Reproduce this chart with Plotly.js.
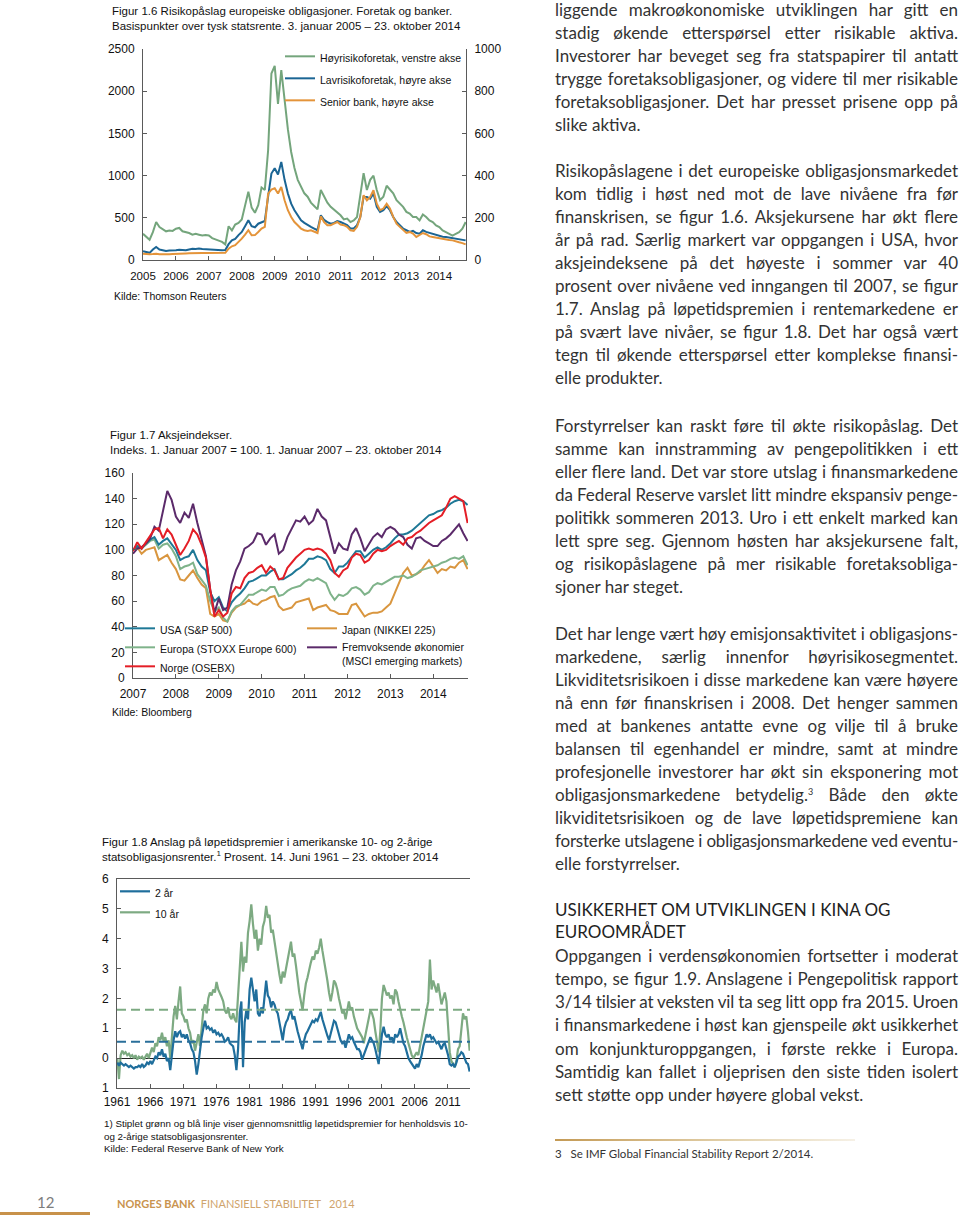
<!DOCTYPE html>
<html><head><meta charset="utf-8">
<script src="https://cdn.plot.ly/plotly-3.0.1.min.js"></script>
<style>
html,body{margin:0;padding:0;background:#fff;}
body{width:960px;height:1220px;position:relative;overflow:hidden;font-family:Lato,"Noto Sans",sans-serif;}
.chart{position:absolute;}
.col{position:absolute;left:555px;width:403px;color:#333;font-size:17px;}
.ln{height:23px;line-height:23px;white-space:nowrap;}
.p5 .ln{height:23.3px;line-height:23.3px;}
.hd{height:22px;line-height:22px;white-space:nowrap;color:#222;}
sup{font-size:9px;line-height:0;vertical-align:6px;}
</style>
</head><body>

<div id="c16" class="chart" style="left:90px;top:0px;width:420px;height:310px"></div>
<div id="c17" class="chart" style="left:90px;top:410px;width:420px;height:310px"></div>
<div id="c18" class="chart" style="left:90px;top:830px;width:420px;height:330px"></div>

<div class="col" style="top:-2px">
<div class="ln j">liggende makroøkonomiske utviklingen har gitt en</div>
<div class="ln j">stadig økende etterspørsel etter risikable aktiva.</div>
<div class="ln j">Investorer har beveget seg fra statspapirer til antatt</div>
<div class="ln j">trygge foretaksobligasjoner, og videre til mer risikable</div>
<div class="ln j">foretaksobligasjoner. Det har presset prisene opp på</div>
<div class="ln">slike aktiva.</div>
</div>

<div class="col" style="top:158.5px">
<div class="ln j">Risikopåslagene i det europeiske obligasjonsmarkedet</div>
<div class="ln j">kom tidlig i høst ned mot de lave nivåene fra før</div>
<div class="ln j">finanskrisen, se figur 1.6. Aksjekursene har økt flere</div>
<div class="ln j">år på rad. Særlig markert var oppgangen i USA, hvor</div>
<div class="ln j">aksjeindeksene på det høyeste i sommer var 40</div>
<div class="ln j">prosent over nivåene ved inngangen til 2007, se figur</div>
<div class="ln j">1.7. Anslag på løpetidspremien i rentemarkedene er</div>
<div class="ln j">på svært lave nivåer, se figur 1.8. Det har også vært</div>
<div class="ln j">tegn til økende etterspørsel etter komplekse finansi-</div>
<div class="ln">elle produkter.</div>
</div>

<div class="col" style="top:413.5px">
<div class="ln j">Forstyrrelser kan raskt føre til økte risikopåslag. Det</div>
<div class="ln j">samme kan innstramming av pengepolitikken i ett</div>
<div class="ln j">eller flere land. Det var store utslag i finansmarkedene</div>
<div class="ln j">da Federal Reserve varslet litt mindre ekspansiv penge-</div>
<div class="ln j">politikk sommeren 2013. Uro i ett enkelt marked kan</div>
<div class="ln j">lett spre seg. Gjennom høsten har aksjekursene falt,</div>
<div class="ln j">og risikopåslagene på mer risikable foretaksobliga-</div>
<div class="ln">sjoner har steget.</div>
</div>

<div class="col" style="top:621.8px">
<div class="ln j">Det har lenge vært høy emisjonsaktivitet i obligasjons-</div>
<div class="ln j">markedene, særlig innenfor høyrisikosegmentet.</div>
<div class="ln j">Likviditetsrisikoen i disse markedene kan være høyere</div>
<div class="ln j">nå enn før finanskrisen i 2008. Det henger sammen</div>
<div class="ln j">med at bankenes antatte evne og vilje til å bruke</div>
<div class="ln j">balansen til egenhandel er mindre, samt at mindre</div>
<div class="ln j">profesjonelle investorer har økt sin eksponering mot</div>
<div class="ln j">obligasjonsmarkedene betydelig.<sup>3</sup> Både den økte</div>
<div class="ln j">likviditetsrisikoen og de lave løpetidspremiene kan</div>
<div class="ln j">forsterke utslagene i obligasjonsmarkedene ved eventu-</div>
<div class="ln">elle forstyrrelser.</div>
</div>

<div class="col" style="top:899px">
<div class="hd">USIKKERHET OM UTVIKLINGEN I KINA OG</div>
<div class="hd">EUROOMRÅDET</div>
</div>

<div class="col p5" style="top:943.5px">
<div class="ln j">Oppgangen i verdensøkonomien fortsetter i moderat</div>
<div class="ln j">tempo, se figur 1.9. Anslagene i Pengepolitisk rapport</div>
<div class="ln j">3/14 tilsier at veksten vil ta seg litt opp fra 2015. Uroen</div>
<div class="ln j">i finansmarkedene i høst kan gjenspeile økt usikkerhet</div>
<div class="ln j">om konjunkturoppgangen, i første rekke i Europa.</div>
<div class="ln j">Samtidig kan fallet i oljeprisen den siste tiden isolert</div>
<div class="ln">sett støtte opp under høyere global vekst.</div>
</div>

<div style="position:absolute;left:555px;top:1139px;width:300px;height:2px;background:linear-gradient(to right,#c49a55,#e3d2ad 60%,#f6f1e6);"></div>
<div style="position:absolute;left:555px;top:1147px;font-size:11.5px;color:#333;white-space:nowrap;">3&nbsp;&nbsp;&nbsp;Se IMF Global Financial Stability Report 2/2014.</div>

<div style="position:absolute;left:37px;top:1193px;font-size:15px;color:#7d7d7d;">12</div>
<div style="position:absolute;left:0;top:1212px;width:90px;height:3px;background:#c8924a;"></div>
<div style="position:absolute;left:117px;top:1197px;font-size:11px;color:#c9944f;white-space:nowrap;"><b>NORGES BANK</b>&nbsp;&nbsp;<span style="color:#cfa46c">FINANSIELL STABILITET&nbsp;&nbsp;&nbsp;2014</span></div>

<script>
// ================= DATA =================
// Figure 1.6 (grid: 0.1 year from 2005.0 to 2014.8)
const f16Years = ['2005','2006','2007','2008','2009','2010','2011','2012','2013','2014'];
const hoyrisiko = [
 310,270,240,330,450,390,360,340,350,345,
 370,380,340,330,320,300,310,300,290,295,
 290,260,240,230,215,185,400,350,420,440,
 480,640,810,620,560,650,860,830,1300,2210,
 2300,1850,2250,1900,1550,1280,1090,950,870,790,
 750,680,640,600,830,750,680,630,600,560,
 530,480,490,450,470,510,760,1030,830,950,
 1000,830,710,750,880,840,790,710,670,630,
 570,550,510,510,470,540,510,470,450,410,
 390,350,330,310,290,310,330,370,450];
const lavrisiko = [
 42,38,34,50,62,50,45,43,45,44,
 46,48,47,46,50,53,52,54,52,51,
 49,48,46,46,46,47,75,93,100,118,
 133,160,188,160,155,172,180,185,300,410,
 435,405,465,380,315,267,236,212,188,176,
 165,157,149,141,212,190,180,172,176,185,
 180,172,165,149,149,165,204,299,299,291,
 315,252,228,236,255,236,204,180,165,149,
 141,133,138,128,125,141,133,128,125,117,
 112,110,109,106,104,100,98,95,93];
const seniorBank = [
 30,28,27,28,30,27,26,27,27,28,
 28,29,30,31,32,33,33,34,33,33,
 33,33,33,33,33,34,54,65,70,85,
 101,120,141,117,118,133,149,157,315,334,
 340,315,346,283,236,204,180,165,149,141,
 138,141,133,128,207,180,165,165,172,180,
 168,165,157,141,138,157,204,307,283,299,
 331,267,236,244,267,244,204,172,157,141,
 128,133,125,109,117,128,122,112,109,106,
 101,99,96,95,93,90,84,80,74];

// Figure 1.7 (grid: 0.1 year from 2007.0 to 2014.8)
const f17Years = ['2007','2008','2009','2010','2011','2012','2013','2014'];
const usa = [
 100,103,101,105,108,110,104,107,109,104,
 100,92,94,95,100,92,87,84,67,60,
 63,55,52,59,63,66,70,75,76,78,
 80,80,83,85,77,77,79,81,84,86,
 89,93,93,95,94,92,85,82,87,87,
 90,95,99,99,94,97,100,102,100,102,
 105,109,112,112,113,115,118,121,124,127,
 128,130,131,133,136,138,139,138,135];
const europa = [
 100,103,101,104,107,108,101,104,105,101,
 95,85,87,88,90,81,76,72,60,52,
 55,47,44,52,56,57,61,65,65,67,
 69,68,71,71,64,65,68,70,71,72,
 75,77,76,78,76,74,66,61,65,64,
 66,70,71,69,65,67,72,74,73,75,
 77,79,79,80,78,79,81,84,85,86,
 87,88,90,91,93,94,93,95,88];
const japan = [
 100,102,97,100,101,102,92,94,96,90,
 85,77,76,80,84,78,73,70,50,48,
 50,45,44,51,55,57,58,61,58,57,
 60,61,63,64,56,53,54,55,59,60,
 61,62,53,55,56,57,53,52,50,50,
 50,57,58,53,48,50,51,51,52,55,
 58,66,74,82,86,80,81,83,88,92,
 87,82,85,84,87,86,90,92,85];
const emerging = [
 97,101,102,105,109,118,115,131,146,139,
 126,121,129,125,136,121,109,95,69,51,
 62,53,55,73,84,91,101,103,106,113,
 112,104,109,112,97,100,110,117,123,122,
 126,120,123,132,126,123,110,97,105,101,
 100,112,117,109,99,104,110,113,110,116,
 118,116,112,110,104,101,109,110,107,105,
 103,103,107,109,112,116,120,113,107];
const norge = [
 99,106,101,106,110,116,117,109,116,112,
 104,96,101,107,116,112,104,94,69,48,
 53,48,51,66,71,70,78,82,83,86,
 88,82,87,84,77,78,86,90,94,97,
 100,101,100,101,100,97,92,82,79,84,
 86,94,97,96,90,92,97,100,99,100,
 103,105,107,104,109,110,113,115,118,121,
 123,125,127,133,140,142,140,138,121];

// Figure 1.8 (quarterly grid from 1961.5 to 2014.75)
const f18Years = ['1961','1966','1971','1976','1981','1986','1991','1996','2001','2006','2011'];
const tenYear = [
 0.0,-0.7,
 0.1,0.25,0.15,0.2,   0.1,0.15,0.05,0.1,   0.0,0.1,-0.05,0.05,  0.0,0.05,-0.05,0.05,
 0.15,0.0,0.2,0.35,   0.2,0.5,0.4,0.7,     0.6,0.85,0.55,0.7,   0.4,0.6,0.0,0.9,
 1.4,1.75,1.3,1.9,    2.4,1.5,1.4,1.2,     1.3,1.0,0.85,0.5,    0.6,0.25,0.5,0.8,
 0.4,1.1,1.6,1.8,     1.5,2.0,2.2,2.1,     2.3,2.2,2.55,2.3,    2.2,2.05,1.9,1.6,
 1.5,1.7,1.4,1.3,     1.5,1.3,1.2,2.2,     3.0,3.9,2.9,3.4,     3.2,4.2,4.6,5.15,
 4.5,4.0,4.3,3.6,     4.0,3.8,4.4,4.6,     5.1,4.7,4.8,4.2,     4.3,3.9,3.6,3.2,
 2.8,2.5,2.9,2.7,     3.0,3.3,3.6,3.9,     3.4,3.5,3.1,2.6,     2.2,1.9,1.6,2.1,
 2.5,2.7,3.0,3.2,     3.4,3.3,3.6,3.5,     3.7,4.0,3.6,3.3,     2.9,2.6,2.2,1.9,
 2.2,2.6,2.5,2.3,     2.0,1.7,1.5,1.6,     1.3,1.6,1.9,1.6,     1.7,1.4,1.2,1.0,
 0.9,0.8,0.7,0.5,     0.8,1.0,1.3,1.6,     1.5,1.3,0.9,0.6,     0.2,0.9,2.0,2.45,
 2.3,2.1,2.2,2.0,     2.1,1.8,2.3,2.2,     1.9,1.6,1.4,1.2,     0.9,0.7,0.5,0.3,
 0.1,0.0,0.1,0.2,     0.1,0.4,0.6,1.0,     1.3,1.5,1.9,3.3,     2.3,2.6,2.4,2.2,
 2.5,2.1,1.8,2.0,     2.2,1.9,0.9,0.2,     -0.1,-0.2,-0.3,-0.1, 0.3,0.4,1.1,1.5,
 1.3,1.4,0.9,0.25];
const twoYear = [
 -0.15,-0.25,
 -0.15,-0.2,-0.25,-0.2,  -0.25,-0.3,-0.25,-0.3,  -0.35,-0.3,-0.3,-0.25,  -0.3,-0.2,-0.3,-0.25,
 -0.15,-0.2,-0.1,-0.2,   -0.1,0.05,0.0,0.2,      0.1,0.3,0.05,0.15,      -0.1,0.0,-0.4,0.2,
 0.6,0.9,0.7,0.85,       0.9,0.7,0.8,0.65,       0.8,0.6,0.5,0.3,        0.2,-0.1,-0.55,-0.2,
 0.3,0.7,1.0,1.25,       1.0,1.05,0.95,1.0,      0.85,0.95,0.8,0.85,     0.75,0.8,0.7,0.55,
 0.6,0.7,0.5,0.45,       0.4,0.1,-0.4,0.3,       1.5,1.9,-0.3,1.2,       1.6,1.3,2.3,2.7,
 2.2,1.9,2.3,1.5,        1.4,1.7,1.5,2.0,        2.6,2.1,2.0,1.7,        1.9,1.8,1.6,1.5,
 1.2,0.9,0.6,1.0,        1.2,1.3,1.5,1.6,        1.3,1.4,1.1,0.9,        0.7,0.5,0.3,0.6,
 0.8,0.9,1.0,1.1,        1.25,1.2,1.3,1.25,      1.4,1.55,1.3,1.1,       0.9,0.75,0.6,0.8,
 1.0,1.25,1.2,1.0,       0.8,0.6,0.5,0.55,       0.35,0.6,0.8,0.65,      0.7,0.55,0.45,0.3,
 0.3,0.2,-0.05,0.1,      0.3,0.4,0.55,0.7,       0.6,0.5,0.3,0.0,        -0.2,0.3,0.8,1.05,
 0.8,0.7,0.8,0.6,        0.7,0.5,0.8,0.7,        0.8,1.0,0.7,0.5,        0.4,0.2,0.0,-0.1,
 -0.2,-0.3,-0.35,-0.2,   -0.3,-0.1,0.1,0.4,      0.6,0.8,0.7,0.8,        0.65,0.7,0.6,0.5,
 0.55,0.4,0.3,0.45,      0.5,0.3,0.1,-0.2,       -0.25,-0.2,-0.3,-0.15,  0.05,0.1,0.2,0.15,
 0.0,-0.15,-0.2,-0.45];
const avgTenYear = 1.62;
const avgTwoYear = 0.55;

// ================= HELPERS =================
function grid(start, step, n){ const a=[]; for(let i=0;i<n;i++) a.push(+(start+i*step).toFixed(3)); return a; }
const FONT = '"Liberation Sans", Arial, sans-serif';
const AX = '#5a5a5a';
const cfg = {staticPlot:true, displayModeBar:false};
function axis(extra){
  return Object.assign({showgrid:false, zeroline:false, showline:true, linecolor:AX, linewidth:1,
    ticks:'inside', ticklen:4, tickcolor:AX, tickwidth:1, ticklabelstandoff:5,
    tickfont:{family:FONT,size:12,color:'#111'}, fixedrange:true}, extra);
}
function base(w,h,m){
  return {width:w, height:h, margin:m, paper_bgcolor:'rgba(0,0,0,0)', plot_bgcolor:'rgba(0,0,0,0)',
    font:{family:FONT, color:'#111'}, showlegend:true};
}
function legendOpts(x,y,gap){
  return {x:x, y:y, xanchor:'left', yanchor:'top', bgcolor:'rgba(0,0,0,0)', borderwidth:0,
    font:{family:FONT,size:10.5,color:'#111'}, itemwidth:30, traceorder:'grouped', tracegroupgap:gap, valign:'top'};
}

// ================= FIG 1.6 =================
(function(){
  const x = grid(2005.0, 0.1, hoyrisiko.length);
  const W=420,H=310,L=53,R=44,T=49,B=50, pw=W-L-R, ph=H-T-B;
  const lay = base(W,H,{l:L,r:R,t:T,b:B,pad:0});
  lay.title = {text:'Figur 1.6 Risikopåslag europeiske obligasjoner. Foretak og banker.<br>Basispunkter over tysk statsrente. 3. januar 2005 – 23. oktober 2014',
    font:{family:FONT,size:11.5,color:'#111'}, x:22/W, xref:'container', xanchor:'left', y:1-15/H, yref:'container', yanchor:'top'};
  lay.xaxis = axis({range:[2005,2014.81], tickvals:f16Years.map(Number), ticktext:f16Years, tickfont:{family:FONT,size:11.5,color:'#111'}});
  lay.yaxis = axis({range:[0,2500], tickvals:[0,500,1000,1500,2000,2500]});
  lay.yaxis2 = axis({range:[0,1000], tickvals:[0,200,400,600,800,1000], overlaying:'y', side:'right'});
  lay.legend = legendOpts((280-143)/pw, 1+6/ph, 3);
  lay.annotations = [{text:'Kilde: Thomson Reuters', xref:'paper', yref:'paper', x:(112-143)/pw, y:(260-296)/ph,
    xanchor:'left', yanchor:'middle', showarrow:false, font:{family:FONT,size:10.5,color:'#111'}}];
  Plotly.newPlot('c16', [
    {x:x, y:hoyrisiko, name:'Høyrisikoforetak, venstre akse', mode:'lines', line:{color:'#74a57c',width:2}, legendgroup:'a', legendrank:1},
    {x:x, y:lavrisiko, name:'Lavrisikoforetak, høyre akse', mode:'lines', line:{color:'#1b6594',width:2}, yaxis:'y2', legendgroup:'b', legendrank:2},
    {x:x, y:seniorBank, name:'Senior bank, høyre akse', mode:'lines', line:{color:'#e4943a',width:2}, yaxis:'y2', legendgroup:'c', legendrank:3}
  ], lay, cfg);
})();

// ================= FIG 1.7 =================
(function(){
  const x = grid(2007.0, 0.1, usa.length);
  const W=420,H=310,L=43,R=42,T=63,B=42, pw=W-L-R, ph=H-T-B;
  const lay = base(W,H,{l:L,r:R,t:T,b:B,pad:0});
  lay.title = {text:'Figur 1.7 Aksjeindekser.<br>Indeks. 1. Januar 2007 = 100. 1. Januar 2007 – 23. oktober 2014',
    font:{family:FONT,size:11.5,color:'#111'}, x:20/W, xref:'container', xanchor:'left', y:1-29/H, yref:'container', yanchor:'top'};
  lay.xaxis = axis({range:[2007,2014.81], tickvals:f17Years.map(Number), ticktext:f17Years});
  lay.yaxis = axis({range:[0,160], tickvals:[0,20,40,60,80,100,120,140,160]});
  lay.yaxis2 = axis({range:[0,160], tickvals:[0,20,40,60,80,100,120,140,160], overlaying:'y', side:'right'});
  lay.legend = legendOpts((120-133)/pw, (678-615)/ph, 0);
  lay.legend2 = legendOpts((302-133)/pw, (678-615)/ph, 0);
  lay.annotations = [{text:'Kilde: Bloomberg', xref:'paper', yref:'paper', x:(110-133)/pw, y:(678-712)/ph,
    xanchor:'left', yanchor:'middle', showarrow:false, font:{family:FONT,size:10.5,color:'#111'}}];
  Plotly.newPlot('c17', [
    {x:x, y:japan, name:'Japan (NIKKEI 225)', mode:'lines', line:{color:'#d9963f',width:2}, legend:'legend2', legendrank:1, legendgroup:'j'},
    {x:x, y:europa, name:'Europa (STOXX Europe 600)', mode:'lines', line:{color:'#7fb38a',width:2}, legendrank:2, legendgroup:'e'},
    {x:x, y:usa, name:'USA (S&P 500)', mode:'lines', line:{color:'#1e7896',width:2}, legendrank:1, legendgroup:'u'},
    {x:x, y:emerging, name:'Fremvoksende økonomier<br>(MSCI emerging markets)', mode:'lines', line:{color:'#5b2a6a',width:2}, legend:'legend2', legendrank:2, legendgroup:'m'},
    {x:x, y:norge, name:'Norge (OSEBX)', mode:'lines', line:{color:'#e41e26',width:2}, legendrank:3, legendgroup:'n'}
  ], lay, cfg);
})();

// ================= FIG 1.8 =================
(function(){
  const x = grid(1961.5, 0.25, tenYear.length);
  const xStart = 1961.45, xEnd = 2014.81;
  const W=420,H=330,L=27,R=40,T=49,B=72, pw=W-L-R, ph=H-T-B;
  const lay = base(W,H,{l:L,r:R,t:T,b:B,pad:0});
  lay.title = {text:'Figur 1.8 Anslag på løpetidspremier i amerikanske 10- og 2-årige<br>statsobligasjonsrenter.<sup>1</sup> Prosent. 14. Juni 1961 – 23. oktober 2014',
    font:{family:FONT,size:11.5,color:'#111'}, x:12/W, xref:'container', xanchor:'left', y:1-16/H, yref:'container', yanchor:'top'};
  lay.xaxis = axis({range:[xStart,xEnd], tickvals:f18Years.map(y=>Number(y)+0.45), ticktext:f18Years, mirror:true, ticklabelstandoff:3});
  lay.yaxis = axis({range:[-1,6], tickvals:[-1,0,1,2,3,4,5,6], ticktext:['1','0','1','2','3','4','5','6'],
    zeroline:true, zerolinecolor:'#222', zerolinewidth:1});
  lay.yaxis2 = axis({range:[-1,6], tickvals:[-1,0,1,2,3,4,5,6], overlaying:'y', side:'right'});
  lay.legend = legendOpts((115-117)/pw, (1088-878)/ph, 2);
  lay.annotations = [{text:'1) Stiplet grønn og blå linje viser gjennomsnittlig løpetidspremier for henholdsvis 10-<br>og 2-årige statsobligasjonsrenter.<br>Kilde: Federal Reserve Bank of New York',
    xref:'paper', yref:'paper', x:(102-117)/pw, y:(1088-1116)/ph, xanchor:'left', yanchor:'top', align:'left', showarrow:false,
    font:{family:FONT,size:9.8,color:'#111'}}];
  Plotly.newPlot('c18', [
    {x:x, y:tenYear, name:'10 år', mode:'lines', line:{color:'#7daa82',width:2.2}, legendrank:2, legendgroup:'t'},
    {x:x, y:twoYear, name:'2 år', mode:'lines', line:{color:'#1f6e9c',width:2.2}, legendrank:1, legendgroup:'w'},
    {x:[xStart,xEnd], y:[avgTenYear,avgTenYear], mode:'lines', line:{color:'#7daa82',width:2,dash:'9px,5px'}, showlegend:false, hoverinfo:'skip'},
    {x:[xStart,xEnd], y:[avgTwoYear,avgTwoYear], mode:'lines', line:{color:'#2a6f9a',width:2,dash:'9px,5px'}, showlegend:false, hoverinfo:'skip'}
  ], lay, cfg);
})();

// ================= justify text lines =================
(function(){
  const W = 403;
  document.querySelectorAll('.ln.j').forEach(function(el){
    const span = document.createElement('span');
    while (el.firstChild) span.appendChild(el.firstChild);
    el.appendChild(span);
    const w = span.getBoundingClientRect().width;
    const txt = span.textContent;
    const spaces = (txt.match(/ /g) || []).length;
    if (w > W) {
      el.style.letterSpacing = ((W - w) / txt.length) + 'px';
      const w2 = span.getBoundingClientRect().width;
      if (spaces > 0) el.style.wordSpacing = ((W - w2) / spaces) + 'px';
    } else if (spaces > 0) {
      el.style.wordSpacing = ((W - w) / spaces) + 'px';
    }
  });
})();
</script>
</body></html>
